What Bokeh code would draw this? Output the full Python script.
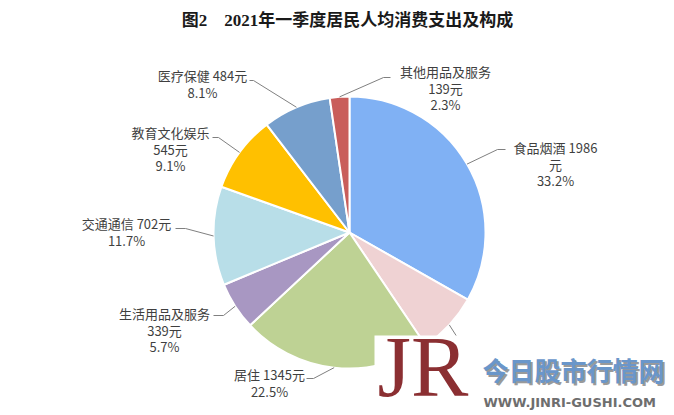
import math
from bokeh.plotting import figure
from bokeh.models import Range1d, ColumnDataSource
from bokeh.core.properties import value
from bokeh.embed import file_html
from bokeh.resources import INLINE

# ---- data ----
categories = ["食品烟酒", "衣着", "居住", "生活用品及服务", "交通通信", "教育文化娱乐", "医疗保健", "其他用品及服务"]
amounts = [1986, 438, 1345, 339, 702, 545, 484, 139]
percents = ["33.2", "7.3", "22.5", "5.7", "11.7", "9.1", "8.1", "2.3"]
title_text = "图2\u00a0\u00a0\u00a0\u00a02021年一季度居民人均消费支出及构成"

# ---- styles / layout ----
colors = ["#80B1F4", "#EFD2D3", "#BED294", "#A897C2", "#B8DEE8", "#FFC000", "#769FCC", "#C95E5B"]
W, H = 674, 415
CX, CY, R = 349, 232, 136          # image coords (y down)
def Y(y):
    return H - y

# label layout: (mode, text center x, first line y, elbow (x, y), end x)
label_layout = [
    ("split", 555, 147, (497, 149), 505),
    ("one",   505, 352, (462, 345), 470),
    ("one",   269, 374, (313, 378), 306),
    ("two",   164, 313, (223, 315), 213),
    ("one",   126, 223, (185, 228), 175),
    ("two",   170, 132, (218, 137), 212),
    ("one",   202, 75,  (253, 80),  249),
    ("two",   445, 71,  (383, 77),  390),
]
LINE_GAP = 16.5

p = figure(width=W, height=H, x_range=Range1d(0, W), y_range=Range1d(0, H),
           min_border=0, output_backend="svg", toolbar_location=None)
p.axis.visible = False
p.grid.visible = False
p.outline_line_color = None
p.background_fill_color = "white"

total = sum(amounts)
starts, ends, mids = [], [], []
cum = 0.0
for a in amounts:
    f0 = cum / total
    cum += a
    f1 = cum / total
    starts.append(math.pi / 2 - 2 * math.pi * f0)
    ends.append(math.pi / 2 - 2 * math.pi * f1)
    mids.append(2 * math.pi * (f0 + f1) / 2)  # clockwise from top

src = ColumnDataSource(dict(x=[CX] * len(amounts), y=[Y(CY)] * len(amounts),
                            start=starts, end=ends, color=colors))
p.wedge(x="x", y="y", radius=R, start_angle="start", end_angle="end", direction="clock",
        fill_color="color", line_color="white", line_width=2, source=src)

# leader lines
xs, ys = [], []
for m, lay in zip(mids, label_layout):
    ax = CX + R * math.sin(m)
    ay = CY - R * math.cos(m)
    (ex, ey), endx = lay[3], lay[4]
    xs.append([ax, ex, endx])
    ys.append([Y(ay), Y(ey), Y(ey)])
p.multi_line(xs=xs, ys=ys, line_color="#808080", line_width=1)

# labels
lx, ly, lt = [], [], []
for name, amt, pct, lay in zip(categories, amounts, percents, label_layout):
    mode, tx, ty = lay[0], lay[1], lay[2]
    if mode == "one":
        lines = [f"{name} {amt}元", f"{pct}%"]
    elif mode == "two":
        lines = [name, f"{amt}元", f"{pct}%"]
    else:
        lines = [f"{name} {amt}", "元", f"{pct}%"]
    for i, s in enumerate(lines):
        lx.append(tx)
        ly.append(Y(ty + i * LINE_GAP))
        lt.append(s)
p.text(x=lx, y=ly, text=lt, text_align="center", text_baseline="middle",
       text_font=value("Noto Sans CJK SC"), text_font_size="13px", text_color="#3F3F3F")

# title
p.text(x=[347], y=[Y(20)], text=[title_text], text_align="center", text_baseline="middle",
       text_font=value("'Liberation Serif', 'Noto Sans CJK SC'"), text_font_style="bold",
       text_font_size="17px", text_color="#1A1A1A")

# watermark
p.quad(left=[374], right=[W], bottom=[0], top=[Y(335)], fill_color="white", line_color=None)
p.text(x=[377], y=[Y(318)], text=["JR"], text_align="left", text_baseline="top",
       text_font=value("Liberation Serif"), text_font_size="86px", text_color="#8B2F32")
p.text(x=[484], y=[Y(371)], text=["今日股市行情网"], text_align="left", text_baseline="middle",
       text_font=value("Noto Sans CJK SC"), text_font_style="bold", text_font_size="26px",
       text_color="#9A9A9A")
p.text(x=[482], y=[Y(369)], text=["今日股市行情网"], text_align="left", text_baseline="middle",
       text_font=value("Noto Sans CJK SC"), text_font_style="bold", text_font_size="26px",
       text_color="#6A96CA")
p.text(x=[483], y=[Y(402)], text=["WWW.JINRI-GUSHI.COM"], text_align="left", text_baseline="middle",
       text_font=value("DejaVu Sans"), text_font_style="bold", text_font_size="13px",
       text_color="#6E6E6E")

open("out.html", "w").write(file_html(p, INLINE))
